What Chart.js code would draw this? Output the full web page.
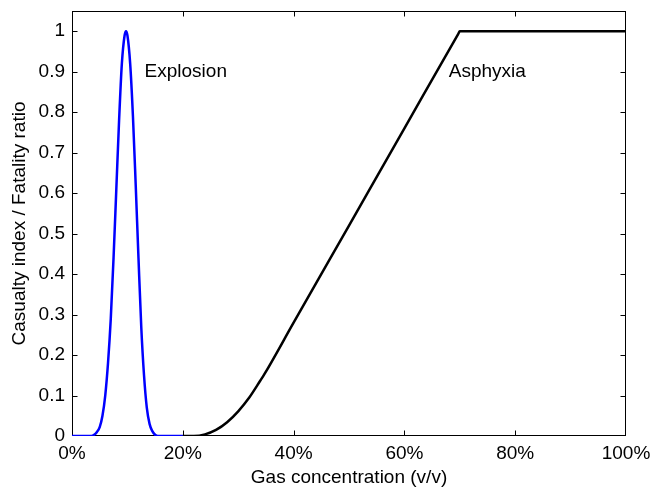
<!DOCTYPE html>
<html>
<head>
<meta charset="utf-8">
<script src="https://cdn.jsdelivr.net/npm/chart.js@4"></script>
<style>
  html, body { margin: 0; padding: 0; background: #fff; }
  #wrap { width: 654px; height: 489px; }
</style>
</head>
<body>
<div id="wrap"><canvas id="c" width="654" height="489"></canvas></div>
<script>
// Gas concentration (% v/v) and the two response curves
const explosionX = [0, 3.5, 4, 4.5, 5, 5.5, 6, 6.5, 7, 7.5, 8, 8.5, 9, 9.5, 9.75, 10, 10.5, 11, 11.5, 12, 12.5, 13, 13.5, 14, 14.5, 15, 15.5, 20];
const explosionY = [0, 0, 0.003, 0.01, 0.022, 0.05, 0.1, 0.18, 0.29, 0.44, 0.61, 0.78, 0.92, 0.99, 1.0, 0.99, 0.92, 0.79, 0.62, 0.44, 0.27, 0.15, 0.07, 0.03, 0.012, 0.003, 0, 0];

const asphyxiaX = [20, 22, 24, 26, 28, 30, 32, 34, 34.7, 40, 50, 60, 69.7, 70, 100];
const asphyxiaY = [0, 0, 0.004, 0.015, 0.034, 0.061, 0.095, 0.137, 0.152, 0.28, 0.52, 0.76, 0.993, 1, 1];

// Axis ticks
const xTickValues = [0, 20, 40, 60, 80, 100];
const yTickValues = [0, 0.1, 0.2, 0.3, 0.4, 0.5, 0.6, 0.7, 0.8, 0.9, 1];

// Curve captions
const captions = [
  { text: 'Explosion', x: 13.1, y: 0.9 },
  { text: 'Asphyxia', x: 68.0, y: 0.9 }
];

const toPoints = (xs, ys) => xs.map((x, i) => ({ x, y: ys[i] }));

const FONT = 'Liberation Sans, Arial, Helvetica, sans-serif';
Chart.defaults.color = '#000';
Chart.defaults.font.family = FONT;

// Boxed axes with inward tick marks on all four sides
const framePlugin = {
  id: 'frame',
  beforeDatasetsDraw(chart) {
    const { ctx, chartArea: a, scales: { x, y } } = chart;
    const L = a.left + 0.5, R = a.right - 0.5, T = a.top + 0.5, B = a.bottom - 0.5;
    const len = 5;
    ctx.save();
    ctx.strokeStyle = '#000';
    ctx.lineWidth = 1;
    ctx.strokeRect(L, T, R - L, B - T);
    ctx.beginPath();
    xTickValues.forEach(v => {
      const px = Math.min(Math.round(x.getPixelForValue(v)), a.right - 1) + 0.5;
      ctx.moveTo(px, B); ctx.lineTo(px, B - len);
      ctx.moveTo(px, T); ctx.lineTo(px, T + len);
    });
    yTickValues.forEach(v => {
      const py = Math.min(Math.round(y.getPixelForValue(v)), a.bottom - 1) + 0.5;
      ctx.moveTo(L, py); ctx.lineTo(L + len, py);
      ctx.moveTo(R, py); ctx.lineTo(R - len, py);
    });
    ctx.stroke();
    ctx.restore();
  },
  afterDatasetsDraw(chart) {
    const { ctx, scales: { x, y } } = chart;
    ctx.save();
    ctx.fillStyle = '#000';
    ctx.font = '19px ' + FONT;
    ctx.textAlign = 'left';
    ctx.textBaseline = 'middle';
    captions.forEach(c => ctx.fillText(c.text, x.getPixelForValue(c.x), y.getPixelForValue(c.y)));
    ctx.restore();
  }
};

new Chart(document.getElementById('c'), {
  type: 'line',
  data: {
    datasets: [
      {
        label: 'Explosion',
        data: toPoints(explosionX, explosionY),
        borderColor: '#0000ff',
        borderWidth: 2.5,
        pointRadius: 0,
        cubicInterpolationMode: 'monotone',
        fill: false
      },
      {
        label: 'Asphyxia',
        data: toPoints(asphyxiaX, asphyxiaY),
        borderColor: '#000000',
        borderWidth: 2.5,
        pointRadius: 0,
        cubicInterpolationMode: 'monotone',
        fill: false
      }
    ]
  },
  options: {
    responsive: false,
    animation: false,
    events: [],
    layout: { padding: { top: 11, right: 28, left: 0, bottom: 0 } },
    plugins: { legend: { display: false }, tooltip: { enabled: false } },
    scales: {
      x: {
        type: 'linear',
        min: 0,
        max: 100,
        grid: { display: false, drawTicks: false },
        border: { display: false },
        afterBuildTicks: s => { s.ticks = xTickValues.map(v => ({ value: v })); },
        afterFit: s => { s.height = 53; s.paddingLeft = 0; s.paddingRight = 0; },
        ticks: {
          padding: 6,
          maxRotation: 0,
          font: { size: 19 },
          callback: v => v + '%'
        },
        title: {
          display: true,
          text: 'Gas concentration (v/v)',
          font: { size: 19 },
          padding: { top: 0, bottom: 0 }
        }
      },
      y: {
        type: 'linear',
        min: 0,
        max: 1.05,
        grid: { display: false, drawTicks: false },
        border: { display: false },
        afterBuildTicks: s => { s.ticks = yTickValues.map(v => ({ value: v })); },
        afterFit: s => { s.width = 72; s.paddingTop = 0; s.paddingBottom = 0; },
        ticks: {
          padding: 7,
          font: { size: 19 },
          callback: v => String(v)
        },
        title: {
          display: true,
          text: 'Casualty index / Fatality ratio',
          font: { size: 19 },
          padding: { top: 8, bottom: 0 }
        }
      }
    }
  },
  plugins: [framePlugin]
});
</script>
</body>
</html>
